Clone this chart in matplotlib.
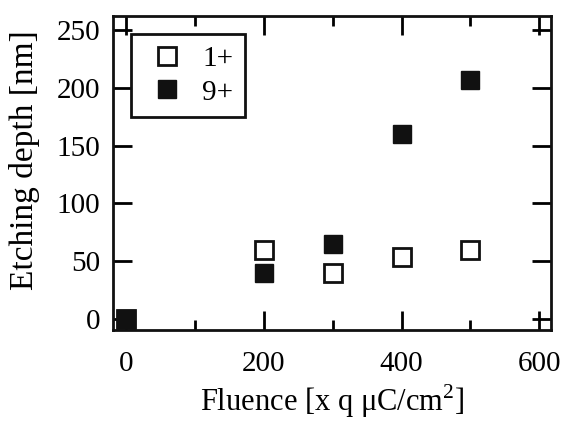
import matplotlib
matplotlib.use("Agg")
import matplotlib.pyplot as plt
from matplotlib.ticker import MultipleLocator

plt.rcParams['font.family'] = ['Liberation Serif', 'DejaVu Serif']
plt.rcParams['mathtext.fontset'] = 'custom'
plt.rcParams['mathtext.rm'] = 'Liberation Serif'

# data
fluence_1 = [0, 200, 300, 400, 500]
depth_1 = [0, 60, 40, 54, 60]
fluence_9 = [0, 200, 300, 400, 500]
depth_9 = [0, 40, 65, 160, 207]

fig = plt.figure(figsize=(5.66, 4.21), dpi=100)
ax = fig.add_axes([113 / 566, 1 - 330 / 421, (551 - 113) / 566, (330 - 16) / 421])

ax.plot(fluence_1, depth_1, 's', ms=13, mfc='white', mec='#111111', mew=2, ls='none', label='1+')
ax.plot(fluence_9, depth_9, 's', ms=13, mfc='#111111', mec='#111111', mew=1, ls='none', label='9+')

ax.set_xlim(-19, 617)
ax.set_ylim(-9.5, 262)
ax.xaxis.set_major_locator(MultipleLocator(200))
ax.xaxis.set_minor_locator(MultipleLocator(100))
ax.yaxis.set_major_locator(MultipleLocator(50))

ax.tick_params(which='both', direction='in', top=True, right=True, width=2, labelsize=21)
ax.tick_params(which='major', length=14)
ax.tick_params(which='minor', length=7)
ax.tick_params(axis='x', pad=15)
ax.tick_params(axis='y', pad=9)
for s in ax.spines.values():
    s.set_linewidth(2)
    s.set_color('#111111')

ax.set_xlabel('Fluence [x q \u03bcC/cm$^2$]', fontsize=22, labelpad=4)
ax.set_ylabel('Etching depth [nm]', fontsize=24)
ax.yaxis.set_label_coords(-0.167, 0.54)

leg = ax.legend(loc='upper left', bbox_to_anchor=(0.041, 0.943), borderaxespad=0, fontsize=21,
                frameon=True, fancybox=False, edgecolor='#111111', handlelength=1.7,
                handletextpad=0.35, borderpad=0.4, labelspacing=0.25)
leg.get_frame().set_linewidth(2)
leg.get_frame().set_alpha(1)

fig.savefig('out.png', dpi=100)
